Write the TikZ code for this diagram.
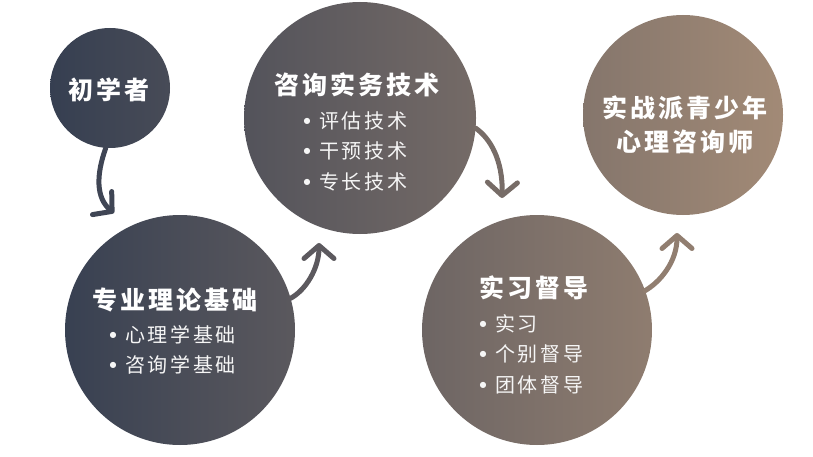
\documentclass[tikz,border=0pt]{standalone}
\usepackage{fontspec}
\usepackage{tikz}
\usetikzlibrary{arrows.meta, positioning}
\newfontfamily\ttlfont[LetterSpace=12]{Noto Sans CJK SC}
\newfontfamily\itmfont[LetterSpace=13]{Noto Sans CJK SC}
\newfontfamily\symfont{DejaVu Sans}
\newcommand\bul{\makebox[15.5pt][l]{\raisebox{5pt}{\symfont\fontsize{8}{8}\selectfont ●}}}
\definecolor{gA}{HTML}{363F51}
\definecolor{gB}{HTML}{A28A76}
\tikzset{
  bub/.style={circle, inner sep=0pt, outer sep=0pt, minimum size=#1},
  ttl/.style={text=white, font=\ttlfont\bfseries\fontsize{25}{34}\selectfont, align=center, inner sep=0pt},
  itm/.style={text=white!93!gray, font=\itmfont\fontsize{20}{30.5}\selectfont, align=left, inner sep=0pt, anchor=west},
  arr/.style={line width=5pt, line cap=round, -{Straight Barb[length=13pt, width=30pt, round]}},
}

\begin{document}
\begin{tikzpicture}[x=1pt, y=-1pt]
  \useasboundingbox (0,0) rectangle (813,457);
  % circles, one slice of the gradient each
  \node[bub=120pt, left color=gA, right color=gB!16!gA] (c1) at (110,88) {};
  \node[bub=230pt, left color=gB!2!gA, right color=gB!34!gA] (c2) at (180,330) {};
  \node[bub=232pt, left color=gB!27!gA, right color=gB!58!gA] (c3) at (360,118) {};
  \node[bub=230pt, left color=gB!51!gA, right color=gB!82!gA] (c4) at (537,330) {};
  \node[bub=200pt, left color=gB!73!gA, right color=gB] (c5) at (683,115) {};

  \node[ttl] (t1) at (109,90) {初学者};
  \node[ttl] (t2) at (175,300) {专业理论基础};
  \node[itm] (l2) at (109.5,350) {\bul 心理学基础\\\bul 咨询学基础};
  \node[ttl] (t3) at (357,85) {咨询实务技术};
  \node[itm] (l3) at (303.5,151) {\bul 评估技术\\\bul 干预技术\\\bul 专长技术};
  \node[ttl] (t4) at (534,288) {实习督导};
  \node[itm] (l4) at (479.5,354) {\bul 实习\\\bul 个别督导\\\bul 团体督导};
  \node[ttl] (t5) at (685,125) {实战派青少年\\心理咨询师};

  \coordinate (e1) at (114,213);
  \coordinate (e2) at (319,243);
  \coordinate (e3) at (502,198);
  \coordinate (e4) at (677,233);
  \draw[arr, gB!8!gA] (c1.-94) .. controls (96,175) and (96,198) .. (e1);
  \draw[arr, gB!35!gA] (c2.16) .. controls (306,290) and (319,268) .. (e2);
  \draw[arr, gB!60!gA] (c3.-5) .. controls (490,138) and (503,160) .. (e3);
  \draw[arr, gB!84!gA] (c4.20) .. controls (660,282) and (677,262) .. (e4);
\end{tikzpicture}
\end{document}
